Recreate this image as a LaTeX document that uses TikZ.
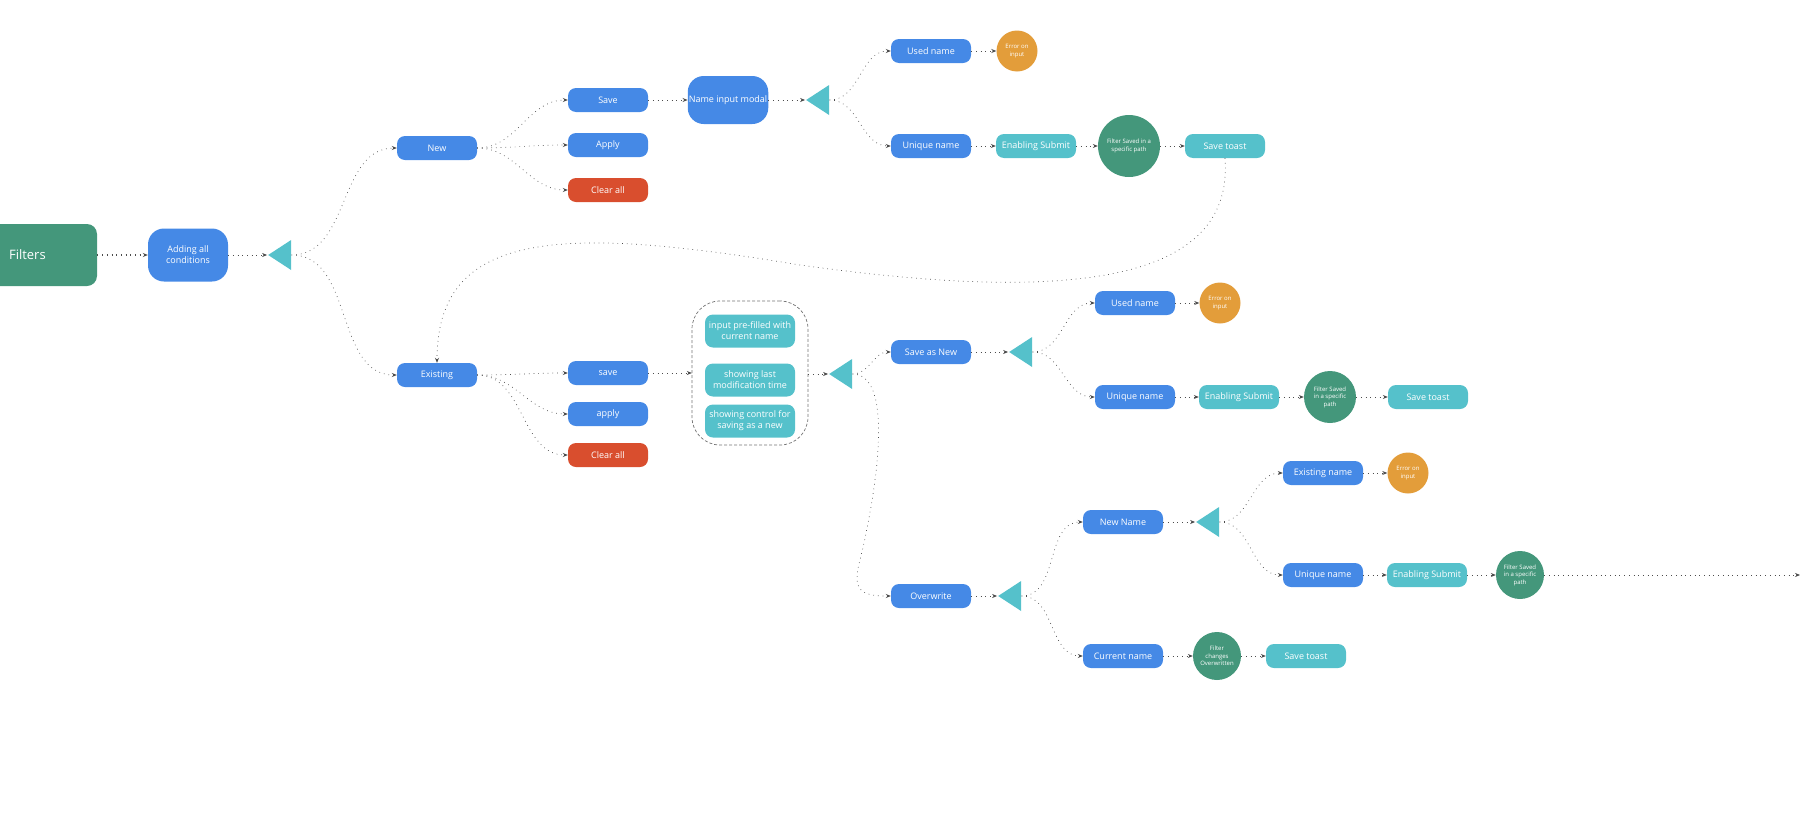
\documentclass[tikz,border=0pt]{standalone}
\usepackage{fontspec}
\setmainfont{Open Sans}
\usetikzlibrary{shapes.geometric,arrows.meta}
\definecolor{cblue}{HTML}{4589E6}
\definecolor{cteal}{HTML}{55C1CB}
\definecolor{cgreen}{HTML}{44977B}
\definecolor{corange}{HTML}{E39D3A}
\definecolor{cred}{HTML}{D94E2E}
\begin{document}
\begin{tikzpicture}[x=0.5pt,y=-0.5pt,every node/.append style={transform shape},scale=1,
 box/.style={rectangle,rounded corners=4pt,minimum width=80pt,minimum height=24pt,inner sep=1pt,text=white,font=\fontsize{9}{11}\selectfont,align=center,scale=0.5},
 bb/.style={box,fill=cblue},
 tb/.style={box,fill=cteal},
 rb/.style={box,fill=cred},
 circ/.style={circle,inner sep=0pt,text=white,align=center,font=\fontsize{6}{7.5}\selectfont,scale=0.5},
 err/.style={circ,fill=corange,minimum size=41pt},
 tri/.style={isosceles triangle,shape border rotate=180,fill=cteal,inner sep=0pt,minimum height=11.5pt,minimum width=15pt,isosceles triangle stretches},
 con/.style={draw=black!70,line width=0.35pt,dotted,-{Stealth[length=2.5pt,width=2pt]}},
 cv/.style={con,out=0,in=180}]
\useasboundingbox (0,0) rectangle (1800,814);
% left
\node[fill=cgreen,rounded corners=5pt,minimum width=85pt,minimum height=31pt] (filters) at (12,255) {};
\node[text=white,font=\fontsize{6.5}{8}\selectfont,anchor=west] (ft) at (2,255) {Filters};
\node[bb,minimum height=53pt,rounded corners=8pt] (add) at (188,255) {Adding all\\conditions};
\node[tri] (t1) at (283,255) {};
\draw[con,line width=0.6pt] (filters.east) -- (add);
\draw[con] (add) -- (t1.apex);
% New branch
\node[bb] (new) at (437,148) {New};
\node[bb] (save1) at (608,100) {Save};
\node[bb] (apply1) at (608,145) {Apply};
\node[rb] (clear1) at (608,190) {Clear all};
\node[bb,minimum height=48pt,rounded corners=8pt] (modal) at (728,100) {Name input modal};
\node[tri] (t2) at (821,100) {};
\node[bb] (used1) at (931,51) {Used name};
\node[bb] (uniq1) at (931,146) {Unique name};
\node[err] (err1) at (1017,51) {Error on\\input};
\node[tb] (en1) at (1036,146) {Enabling Submit};
\node[circ,fill=cgreen,minimum size=62pt] (fs1) at (1129,146) {Filter Saved in a\\specific path};
\node[tb] (toast1) at (1225,146) {Save toast};
\draw[cv] (t1.east) to (new.west);
\draw[cv] (new.east) to (save1.west);
\draw[cv] (new.east) to (apply1.west);
\draw[cv] (new.east) to (clear1.west);
\draw[con] (save1) -- (modal);
\draw[con] (modal) -- (t2.apex);
\draw[cv] (t2.east) to (used1.west);
\draw[cv] (t2.east) to (uniq1.west);
\draw[con] (used1) -- (err1);
\draw[con] (uniq1) -- (en1);
\draw[con] (en1) -- (fs1);
\draw[con] (fs1) -- (toast1);
% Existing branch
\node[bb] (exist) at (437,375) {Existing};
\draw[cv] (t1.east) to (exist.west);
\draw[con] (toast1.south) .. controls (1235,290) and (1050,300) .. (800,265) .. controls (560,225) and (437,230) .. (exist.north);
\node[bb] (save2) at (608,373) {save};
\node[bb] (apply2) at (608,414) {apply};
\node[rb] (clear2) at (608,455) {Clear all};
\draw[cv] (exist.east) to (save2.west);
\draw[cv] (exist.east) to (apply2.west);
\draw[cv] (exist.east) to (clear2.west);
\node[draw=black!55,dash pattern=on 1.5pt off 1pt,line width=0.35pt,rounded corners=14pt,minimum width=116pt,minimum height=144pt,scale=0.5] (grp) at (750,373) {};
\node[tb,minimum width=90pt,minimum height=33pt] (g1) at (750,331) {input pre-filled with\\current name};
\node[tb,minimum width=90pt,minimum height=33pt] (g2) at (750,380) {showing last\\modification time};
\node[tb,minimum width=90pt,minimum height=33pt] (g3) at (750,421) {showing control for\\saving as a new};
\draw[con] (save2) -- (grp.west |- save2);
\node[tri] (t3) at (844,374) {};
\draw[con] (grp.east |- t3) -- (t3.apex);
% Save as new
\node[bb] (san) at (931,352) {Save as New};
\node[bb] (over) at (931,596) {Overwrite};
\draw[cv] (t3.east) to (san.west);
\draw[con] (t3.east) .. controls (900,374) and (870,520) .. (860,560) .. controls (852,590) and (860,596) .. (over.west);
\node[tri] (t4) at (1024,352) {};
\draw[con] (san) -- (t4.apex);
\node[bb] (used2) at (1135,303) {Used name};
\node[err] (err2) at (1220,303) {Error on\\input};
\node[bb] (uniq2) at (1135,397) {Unique name};
\node[tb] (en2) at (1239,397) {Enabling Submit};
\node[circ,fill=cgreen,minimum size=52pt] (fs2) at (1330,397) {Filter Saved\\in a specific\\path};
\node[tb] (toast2) at (1428,397) {Save toast};
\draw[cv] (t4.east) to (used2.west);
\draw[cv] (t4.east) to (uniq2.west);
\draw[con] (used2) -- (err2);
\draw[con] (uniq2) -- (en2);
\draw[con] (en2) -- (fs2);
\draw[con] (fs2) -- (toast2);
% Overwrite
\node[tri] (t5) at (1013,596) {};
\draw[con] (over) -- (t5.apex);
\node[bb] (nn) at (1123,522) {New Name};
\node[bb] (cn) at (1123,656) {Current name};
\draw[cv] (t5.east) to (nn.west);
\draw[cv] (t5.east) to (cn.west);
\node[tri] (t6) at (1211,522) {};
\draw[con] (nn) -- (t6.apex);
\node[bb] (exn) at (1323,473) {Existing name};
\node[err] (err3) at (1408,473) {Error on\\input};
\node[bb] (uniq3) at (1323,575) {Unique name};
\node[tb] (en3) at (1427,575) {Enabling Submit};
\node[circ,fill=cgreen,minimum size=48pt] (fs3) at (1520,575) {Filter Saved\\in a specific\\path};
\coordinate (out) at (1800,575);
\draw[cv] (t6.east) to (exn.west);
\draw[cv] (t6.east) to (uniq3.west);
\draw[con] (exn) -- (err3);
\draw[con] (uniq3) -- (en3);
\draw[con] (en3) -- (fs3);
\draw[con] (fs3) -- (out);
\node[circ,fill=cgreen,minimum size=48pt] (fc) at (1217,656) {Filter\\changes\\Overwritten};
\node[tb] (toast3) at (1306,656) {Save toast};
\draw[con] (cn) -- (fc);
\draw[con] (fc) -- (toast3);
\end{tikzpicture}
\end{document}
